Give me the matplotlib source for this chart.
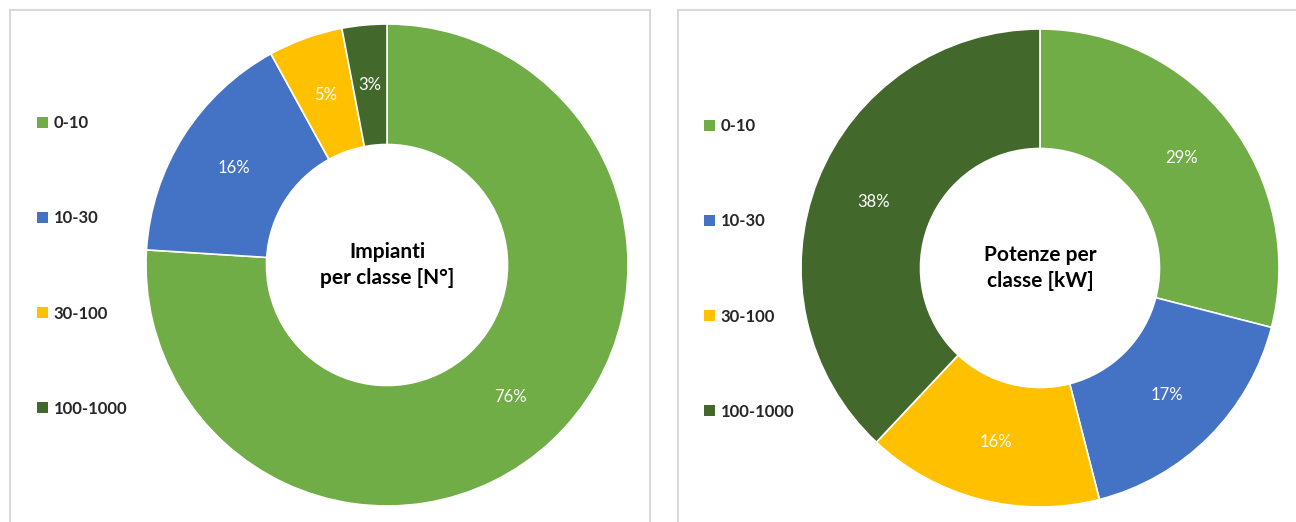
import matplotlib.pyplot as plt
from matplotlib.patches import Rectangle, Patch

# Data
classes = ['0-10', '10-30', '30-100', '100-1000']
impianti_pct = [76, 16, 5, 3]
potenze_pct = [29, 17, 16, 38]
colors = ['#70AD47', '#4472C4', '#FFC000', '#43682B']

plt.rcParams['font.family'] = ['Lato', 'DejaVu Sans']

W, H = 1296, 522
fig = plt.figure(figsize=(W / 100, H / 100), dpi=100)


def px_axes(cx, cy, r):
    # axes square around the donut, pixel coords measured from the top
    return fig.add_axes([(cx - r) / W, (H - cy - r) / H, 2 * r / W, 2 * r / H])


# Panel borders
for x0, x1 in [(10, 650), (678, 1310)]:
    fig.patches.append(Rectangle((x0 / W, -0.1), (x1 - x0) / W, (H - 10) / H + 0.1,
                                 transform=fig.transFigure, fill=False,
                                 edgecolor='#D9D9D9', linewidth=1.5))

panels = [
    (387, 265, 241, impianti_pct, 'Impianti\nper classe [N°]', 22),
    (1040, 268, 239, potenze_pct, 'Potenze per\nclasse [kW]', 689),
]

for cx, cy, r, vals, title, leg_x in panels:
    ax = px_axes(cx, cy, r)
    wedges, texts, autotexts = ax.pie(
        vals, colors=colors, startangle=90, counterclock=False,
        autopct='%d%%', pctdistance=0.75, radius=1,
        wedgeprops=dict(width=0.5, edgecolor='white', linewidth=1.2),
        textprops=dict(color='white', fontsize=12))
    ax.set_xlim(-1, 1)
    ax.set_ylim(-1, 1)
    ax.set_aspect('equal')
    ax.text(0, 0, title, ha='center', va='center', fontsize=15,
            fontweight='bold', color='black', linespacing=1.35)

    handles = [Patch(facecolor=c, edgecolor='none') for c in colors]
    fig.legend(handles, classes, loc='center left',
               bbox_to_anchor=(leg_x / W, 1 - (cy + 1) / H),
               frameon=False, handlelength=0.65, handleheight=0.65,
               handletextpad=0.35, labelspacing=4.75,
               prop=dict(size=12, weight='bold'), labelcolor='#262626')

fig.savefig('out.png', dpi=100)
